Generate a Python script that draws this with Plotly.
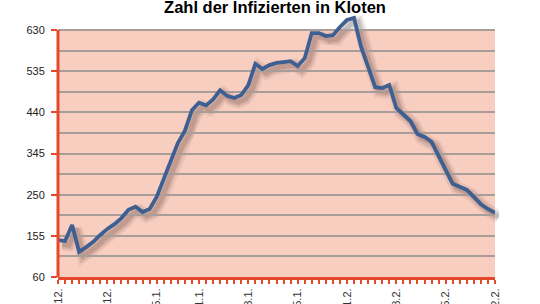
import pandas as pd
import plotly.graph_objects as go

# ---- data ----
DATES = pd.date_range("2020-12-22", "2021-02-22", freq="D")
INFECTED = [145, 143, 180, 118, 129, 141, 157, 171, 182, 196,
            215, 222, 210, 217, 245, 288, 332, 369, 397, 445,
            462, 456, 470, 491, 478, 473, 480, 503, 552, 540,
            549, 554, 556, 558, 547, 565, 623, 623, 616, 618,
            637, 653, 658, 591, 545, 498, 496, 503, 450, 436,
            420, 390, 383, 372, 337, 307, 275, 268, 261, 245,
            228, 217, 208]
TICK_DATES = ["2020-12-22", "2020-12-29", "2021-01-05", "2021-01-11", "2021-01-18",
              "2021-01-25", "2021-02-01", "2021-02-08", "2021-02-15", "2021-02-22"]
TICK_LABELS = ["22.12.", "29.12.", "5.1.", "11.1.", "18.1.",
               "25.1.", "1.2.", "8.2.", "15.2.", "22.2."]
Y_TICKS = [60, 155, 250, 345, 440, 535, 630]
Y_MINOR = [107.5, 202.5, 297.5, 392.5, 487.5, 582.5]
TITLE = "Zahl der Infizierten in Kloten"

# ---- layout geometry (pixels) ----
W, H = 540, 304
PX_L, PX_R = 58, 495
PX_BOT, PX_TOP = 277, 30          # y=60 and y=630
YMIN, YMAX_VIS, YMAX = 60, 630, 672
scale = (PX_BOT - PX_TOP) / (YMAX_VIS - YMIN)
px_top_range = PX_TOP - (YMAX - YMAX_VIS) * scale
SH = 4  # shadow offset

RED = "#E5482A"
BG = "#F8CEC0"
GRID = "#A89D99"
LINE = "#3E5F91"


def xd(a, b):
    return [a / W, b / W]


def yd(bot, top):
    return [(H - bot) / H, (H - top) / H]


fig = go.Figure()

# shadow (same data, offset subplot)
for w, a in [(13, 0.07), (9, 0.10), (5, 0.14)]:
    fig.add_trace(go.Scatter(x=DATES, y=INFECTED, mode="lines", xaxis="x", yaxis="y",
                             line=dict(color=f"rgba(60,30,30,{a})", width=w),
                             hoverinfo="skip", showlegend=False))
# main line
fig.add_trace(go.Scatter(x=DATES, y=INFECTED, mode="lines", xaxis="x2", yaxis="y2",
                         line=dict(color=LINE, width=3.8), showlegend=False))

fig.update_layout(
    width=W, height=H, autosize=False,
    margin=dict(l=0, r=0, t=0, b=0),
    paper_bgcolor="white", plot_bgcolor="rgba(0,0,0,0)",
    showlegend=False,
    title=dict(text=TITLE, x=275 / W, xanchor="center", yref="container",
               y=1 - 7 / H, yanchor="middle", automargin=False,
               font=dict(family="Liberation Sans", size=16.5, color="black", weight="bold")),
    xaxis=dict(domain=xd(PX_L + SH, PX_R + SH), range=[DATES[0], DATES[-1]],
               visible=False, anchor="y", automargin=False),
    yaxis=dict(domain=yd(PX_BOT + SH, px_top_range + SH), range=[YMIN, YMAX],
               visible=False, anchor="x", automargin=False),
    xaxis2=dict(domain=xd(PX_L, PX_R), range=[DATES[0], DATES[-1]], anchor="y2",
                automargin=False,
                showline=True, linecolor=RED, linewidth=3,
                tickmode="array", tickvals=TICK_DATES, ticktext=TICK_LABELS,
                ticks="outside", ticklen=4, tickwidth=2, tickcolor=RED,
                tickangle=-90, ticklabelstandoff=0,
                tickfont=dict(family="Liberation Sans", size=11, color="#333333"),
                minor=dict(dtick=86400000, tick0=DATES[0], ticks="outside",
                           ticklen=4, tickwidth=2, tickcolor=RED, showgrid=False),
                showgrid=False, zeroline=False),
    yaxis2=dict(domain=yd(PX_BOT, px_top_range), range=[YMIN, YMAX], anchor="x2",
                automargin=False, showline=False,
                tickmode="array", tickvals=Y_TICKS,
                ticks="outside", ticklen=6, tickwidth=2, tickcolor=RED,
                ticklabelstandoff=4,
                tickfont=dict(family="Liberation Sans", size=11, color="#222222"),
                showgrid=True, gridcolor=GRID, gridwidth=1.5,
                minor=dict(tickvals=Y_MINOR, showgrid=True, gridcolor=GRID,
                           gridwidth=1.5, ticks=""),
                zeroline=False),
    shapes=[
        dict(type="rect", xref="paper", yref="y2", x0=PX_L / W, x1=PX_R / W,
             y0=YMIN, y1=YMAX_VIS, fillcolor=BG, line=dict(width=0), layer="below"),
        dict(type="line", xref="paper", yref="y2", x0=PX_L / W, x1=PX_L / W,
             y0=YMIN, y1=YMAX_VIS, line=dict(color=RED, width=3), layer="above"),
    ],
)

fig.write_html("out.html")
